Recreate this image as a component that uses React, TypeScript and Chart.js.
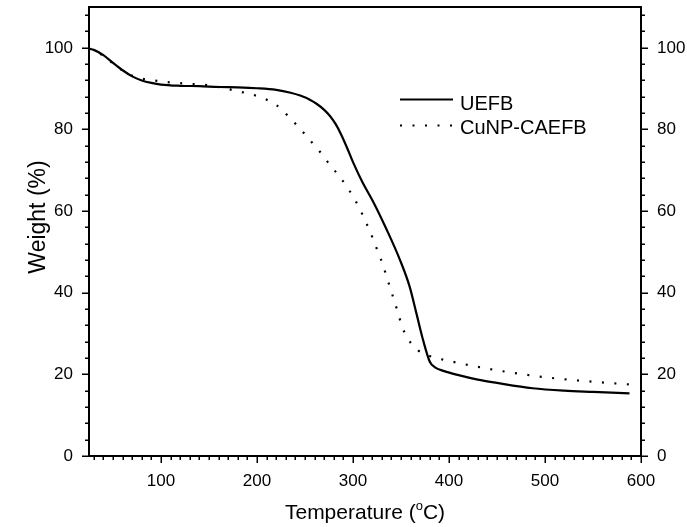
import React, { useEffect, useRef } from "react";
import { Chart, registerables } from "chart.js";
Chart.register(...registerables);

const xTickValues = [100, 200, 300, 400, 500, 600];
const yTickValues = [0, 20, 40, 60, 80, 100];

const uefbTemp = [25, 30, 40, 50, 60, 70, 80, 90, 100, 120, 140, 160, 180, 200, 220, 235, 245, 255, 262, 270, 276, 282, 288, 294, 300, 310, 321, 335, 349, 359, 366, 373, 380, 385, 395, 410, 430, 450, 487, 520, 550, 588];
const uefbWeight = [99.8, 99.5, 98.2, 96.3, 94.5, 93.0, 92.0, 91.4, 91.0, 90.7, 90.6, 90.4, 90.3, 90.1, 89.7, 89.0, 88.3, 87.3, 86.3, 84.8, 83.3, 81.3, 78.6, 75.4, 72.0, 67.0, 62.3, 55.5, 48.0, 41.5, 35.0, 28.4, 23.1, 21.8, 20.8, 19.8, 18.7, 17.9, 16.6, 16.0, 15.7, 15.35];

const cunpTemp = [25, 30, 40, 50, 64, 77, 90, 103, 116, 129, 150, 168, 181, 193, 207, 220, 232, 244, 255, 266, 276, 286.5, 295.5, 305, 314, 321, 326, 331, 335, 339, 343, 347, 351, 357, 367, 380, 400, 450, 500, 550, 590];
const cunpWeight = [99.8, 99.4, 98.0, 96.2, 93.8, 92.6, 92.1, 91.7, 91.4, 91.2, 90.8, 90.0, 89.3, 88.7, 87.6, 86.0, 83.4, 80.4, 77.4, 74.4, 71.3, 68.3, 65.3, 61.5, 57.0, 53.1, 50.0, 47.0, 43.9, 41.0, 38.0, 35.0, 31.8, 28.8, 26.0, 24.5, 23.3, 21.0, 19.3, 18.2, 17.5];

const FONT = "'Liberation Sans', Arial, Helvetica, sans-serif";

const framePlugin = {
  id: "frame",
  afterDraw(chart: any) {
    const { ctx, chartArea } = chart;
    const { left, right, top, bottom } = chartArea;
    const xs = chart.scales.x;
    const ys = chart.scales.y;
    ctx.save();
    ctx.strokeStyle = "#000";
    ctx.lineWidth = 2;
    ctx.strokeRect(left, top, right - left, bottom - top);
    ctx.lineWidth = 1.5;
    ctx.beginPath();
    for (let v = 30; v <= 600; v += 10) {
      const px = Math.round(xs.getPixelForValue(v)) + 0.25;
      const len = v % 100 === 0 ? 7 : 4;
      ctx.moveTo(px, bottom);
      ctx.lineTo(px, bottom + len);
    }
    for (let v = 0; v <= 108; v += 4) {
      const py = Math.round(ys.getPixelForValue(v)) + 0.25;
      const len = v % 20 === 0 ? 7 : 4;
      ctx.moveTo(left, py);
      ctx.lineTo(left - len, py);
      ctx.moveTo(right, py);
      ctx.lineTo(right + len, py);
    }
    ctx.stroke();

    // legend
    const ds = chart.data.datasets;
    const items = [
      { y: 99.5, base: 110 },
      { y: 125.5, base: 133.5 },
    ];
    ctx.font = `20px ${FONT}`;
    ctx.fillStyle = "#000";
    ctx.textBaseline = "alphabetic";
    ctx.textAlign = "left";
    ds.forEach((d: any, i: number) => {
      ctx.save();
      ctx.lineWidth = d.borderWidth;
      ctx.setLineDash(d.borderDash || []);
      ctx.beginPath();
      ctx.moveTo(400, items[i].y);
      ctx.lineTo(453, items[i].y);
      ctx.stroke();
      ctx.restore();
      ctx.fillText(d.label, 460, items[i].base);
    });

    // x title with superscript
    const p1 = "Temperature (";
    const p2 = "o";
    const p3 = "C)";
    ctx.font = `21px ${FONT}`;
    const w1 = ctx.measureText(p1).width;
    const w3 = ctx.measureText(p3).width;
    ctx.font = `13px ${FONT}`;
    const w2 = ctx.measureText(p2).width;
    const total = w1 + w2 + w3;
    const cx = (left + right) / 2;
    let sx = cx - total / 2;
    const by = 519;
    ctx.font = `21px ${FONT}`;
    ctx.fillText(p1, sx, by);
    sx += w1;
    ctx.font = `13px ${FONT}`;
    ctx.fillText(p2, sx, by - 9);
    sx += w2;
    ctx.font = `21px ${FONT}`;
    ctx.fillText(p3, sx, by);

    // y title
    ctx.save();
    ctx.translate(45, 217);
    ctx.rotate(-Math.PI / 2);
    ctx.font = `23px ${FONT}`;
    ctx.textAlign = "center";
    ctx.fillText("Weight (%)", 0, 0);
    ctx.restore();

    ctx.restore();
  },
};

export default function App() {
  const ref = useRef<HTMLCanvasElement>(null);
  useEffect(() => {
    const canvas = ref.current;
    if (!canvas) return;
    Chart.defaults.font.family = FONT;
    const yAxis = (position: string, width: number) => ({
      type: "linear",
      position,
      min: 0,
      max: 110,
      grid: { display: false, drawTicks: false },
      border: { display: false },
      ticks: { color: "#000", font: { size: 17 }, padding: 16 },
      afterBuildTicks: (s: any) => {
        s.ticks = yTickValues.map((v) => ({ value: v }));
      },
      afterFit: (s: any) => {
        s.width = width;
        s.paddingTop = 0;
        s.paddingBottom = 0;
      },
    });
    const chart = new Chart(canvas, {
      type: "line",
      data: {
        datasets: [
          {
            label: "UEFB",
            data: uefbTemp.map((t, i) => ({ x: t, y: uefbWeight[i] })),
            borderColor: "#000",
            borderWidth: 2.2,
            pointRadius: 0,
            cubicInterpolationMode: "monotone",
            fill: false,
          },
          {
            label: "CuNP-CAEFB",
            data: cunpTemp.map((t, i) => ({ x: t, y: cunpWeight[i] })),
            borderColor: "#000",
            borderWidth: 2.2,
            borderDash: [2, 10.5],
            pointRadius: 0,
            cubicInterpolationMode: "monotone",
            fill: false,
          },
        ],
      },
      options: {
        responsive: false,
        animation: false,
        layout: { padding: { top: 7, left: 0, right: 0, bottom: 0 } },
        plugins: { legend: { display: false }, tooltip: { enabled: false } },
        scales: {
          x: {
            type: "linear",
            position: "bottom",
            min: 25,
            max: 600,
            grid: { display: false, drawTicks: false },
            border: { display: false },
            ticks: { color: "#000", font: { size: 17 }, padding: 15, maxRotation: 0 },
            afterBuildTicks: (s: any) => {
              s.ticks = xTickValues.map((v) => ({ value: v }));
            },
            afterFit: (s: any) => {
              s.height = 71;
              s.paddingLeft = 0;
              s.paddingRight = 0;
            },
          },
          y: yAxis("left", 89),
          y2: yAxis("right", 46),
        } as any,
      },
      plugins: [framePlugin],
    } as any);
    return () => chart.destroy();
  }, []);
  return (
    <canvas
      ref={ref}
      width={687}
      height={527}
      style={{ position: "fixed", left: 0, top: 0, width: 687, height: 527, background: "#fff" }}
    />
  );
}
